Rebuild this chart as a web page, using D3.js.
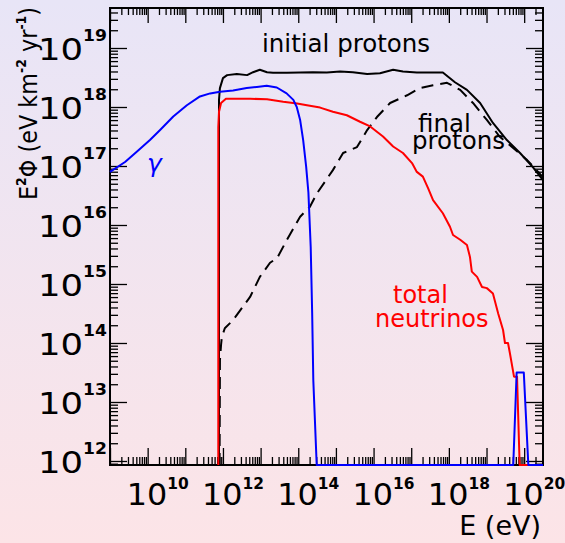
<!DOCTYPE html>
<html><head><meta charset="utf-8">
<script src="https://cdn.jsdelivr.net/npm/d3@7"></script>
<style>html,body{margin:0;padding:0;overflow:hidden;background:#fff}svg{display:block}</style>
</head><body>
<svg id="c" width="565" height="543"></svg>
<script>
// ---------------- data ----------------
const FLOOR = 1e11; // below axis: drawn on the lower frame
const initialE = [7.85e11,7.85e11,8.3e11,1.0e12,1.29e12,2.34e12,4.37e12,6.31e12,9.55e12,1.48e13,2.14e13,5.01e13,1.12e14,2.45e14,5.75e14,1.29e15,2.82e15,6.76e15,1.48e16,3.31e16,6.03e16,1.41e17,3.16e17,6.92e17,1.45e18,3.02e18,6.76e18,1.48e19,3.47e19,7.76e19,1.70e20,3.16e20];
const initialF = [FLOOR,1.32e18,2.09e18,3.09e18,3.47e18,3.63e18,3.47e18,3.89e18,4.27e18,3.89e18,3.80e18,3.80e18,3.85e18,3.89e18,3.85e18,3.98e18,3.89e18,3.63e18,3.72e18,4.27e18,3.98e18,3.85e18,3.85e18,3.85e18,2.63e18,1.95e18,1.17e18,5.37e17,2.75e17,1.66e17,9.55e16,5.75e16];

const finalE = [8.13e11,8.32e11,8.91e11,9.33e11,1.12e12,1.86e12,5.25e12,9.55e12,1.78e13,2.75e13,5.01e13,1.12e14,2.04e14,3.16e14,8.32e14,1.55e15,3.63e15,6.76e15,1.23e16,2.75e16,7.76e16,1.70e17,3.80e17,8.91e17,2.00e18,4.37e18,1.02e19,2.29e19,5.01e19,1.20e20,3.16e20];
const finalF = [FLOOR,5.13e13,9.33e13,1.26e14,1.78e14,2.45e14,6.03e14,1.32e15,2.29e15,2.75e15,5.62e15,1.38e16,2.04e16,3.47e16,8.51e16,1.66e17,2.09e17,4.07e17,6.76e17,1.17e18,1.58e18,2.09e18,2.34e18,2.57e18,1.95e18,1.17e18,6.03e17,3.09e17,2.04e17,1.26e17,6.46e16];

const nuE = [7.52e11,7.52e11,7.85e11,8.91e11,1.20e12,1.86e12,5.25e12,1.48e13,3.98e13,9.33e13,1.70e14,3.80e14,8.32e14,1.95e15,4.37e15,8.13e15,1.78e16,3.31e16,6.03e16,1.05e17,1.41e17,2.04e17,2.82e17,3.80e17,6.92e17,1.07e18,1.29e18,2.00e18,3.02e18,3.63e18,4.07e18,5.62e18,7.59e18,1.02e19,1.48e19,2.04e19,2.75e19,3.09e19,3.72e19,4.17e19,5.01e19,5.37e19,6.46e19,7.59e19,3.16e20];
const nuF = [FLOOR,4.57e17,8.32e17,1.17e18,1.38e18,1.38e18,1.38e18,1.35e18,1.23e18,1.15e18,1.07e18,9.77e17,8.32e17,7.24e17,5.62e17,4.68e17,3.16e17,2.14e17,1.66e17,1.12e17,7.94e16,6.61e16,4.17e16,2.63e16,1.58e16,9.33e15,6.76e15,5.62e15,4.57e15,2.88e15,1.62e15,1.32e15,8.91e14,8.51e14,6.92e14,3.16e14,1.66e14,1.00e14,1.00e14,6.76e13,3.47e13,2.69e13,2.69e13,FLOOR,FLOOR];

const gammaE = [1.0e9,2.51e9,5.13e9,1.15e10,2.14e10,4.79e10,1.10e11,2.45e11,4.57e11,8.32e11,1.86e12,4.27e12,7.94e12,1.45e13,2.69e13,4.90e13,7.41e13,9.12e13,1.12e14,1.35e14,1.62e14,1.86e14,2.14e14,2.34e14,2.51e14,3.09e14,5.13e19,6.31e19,9.77e19,1.29e20,3.16e20];
const gammaF = [7.94e16,1.17e17,1.74e17,2.75e17,4.07e17,6.92e17,1.07e18,1.51e18,1.70e18,1.82e18,1.91e18,2.09e18,2.19e18,2.29e18,2.14e18,1.70e18,1.32e18,1.00e18,6.03e17,2.75e17,9.77e16,3.55e16,4.27e15,3.24e14,2.34e13,FLOOR,FLOOR,3.16e13,3.16e13,FLOOR,FLOOR];

const xTickValues = [1e10,1e12,1e14,1e16,1e18,1e20];
const xTickExp = ["10","12","14","16","18","20"];
const yTickValues = [1e12,1e13,1e14,1e15,1e16,1e17,1e18,1e19];
const yTickExp = ["12","13","14","15","16","17","18","19"];

// ---------------- layout ----------------
const W = 565, H = 543;
const L = 110, R = 543, T = 8, B = 465;
const FONT = "'DejaVu Sans', sans-serif";

const svg = d3.select("#c");
const defs = svg.append("defs");
const grad = defs.append("linearGradient").attr("id","bg").attr("x1",0).attr("y1",0).attr("x2",0).attr("y2",1);
grad.append("stop").attr("offset","0%").attr("stop-color","#e8e5f7");
grad.append("stop").attr("offset","100%").attr("stop-color","#fce4e7");
svg.append("rect").attr("width",W).attr("height",H).attr("fill","url(#bg)");

const x = d3.scaleLog().domain([1e9, 3.1623e20]).range([L, R]);
const y = d3.scaleLog().domain([8.55e11, 4.764e19]).range([B, T]).clamp(true);

function minors(scale){
  const [a,b] = scale.domain(); const out=[];
  for(let n=Math.floor(Math.log10(a)); n<=Math.ceil(Math.log10(b)); n++){
    for(let k=2;k<=9;k++){ const v=k*Math.pow(10,n); if(v>a && v<b) out.push(v); }
  }
  return out;
}
function majors(scale){
  const [a,b] = scale.domain(); const out=[];
  for(let n=Math.ceil(Math.log10(a)); n<=Math.floor(Math.log10(b)); n++) out.push(Math.pow(10,n));
  return out;
}
const xMaj = majors(x), xMin = minors(x), yMaj = majors(y), yMin = minors(y);

const axes = svg.append("g").attr("class","axes");
function drawAxis(gen, tr, vals, size){
  const g = axes.append("g").attr("transform",tr)
    .call(gen.tickValues(vals).tickSize(size).tickFormat(""));
  g.select(".domain").remove();
  g.selectAll(".tick line").attr("stroke","#000").attr("stroke-width",1.3);
}
drawAxis(d3.axisBottom(x), `translate(0,${B})`, xMaj, -17);
drawAxis(d3.axisBottom(x), `translate(0,${B})`, xMin, -8);
drawAxis(d3.axisTop(x), `translate(0,${T})`, xMaj, -15);
drawAxis(d3.axisTop(x), `translate(0,${T})`, xMin, -7);
drawAxis(d3.axisLeft(y), `translate(${L},0)`, yMaj, -17);
drawAxis(d3.axisLeft(y), `translate(${L},0)`, yMin, -8);
drawAxis(d3.axisRight(y), `translate(${R},0)`, yMaj, -17);
drawAxis(d3.axisRight(y), `translate(${R},0)`, yMin, -8);

svg.append("rect").attr("x",L).attr("y",T).attr("width",R-L).attr("height",B-T)
  .attr("fill","none").attr("stroke","#000").attr("stroke-width",2);

// curves
const line = d3.line().x(d=>x(d[0])).y(d=>y(d[1]));
function curve(E,F,color,dash){
  svg.append("path").datum(E.map((e,i)=>[e,F[i]]))
    .attr("d",line).attr("fill","none").attr("stroke",color).attr("stroke-width",2)
    .attr("stroke-linejoin","round").attr("stroke-dasharray",dash||null);
}
curve(initialE, initialF, "#000");
curve(finalE, finalF, "#000", "12,7");
curve(nuE, nuF, "#ff0000");
curve(gammaE, gammaF, "#0000ff");

// tick labels
const labels = svg.append("g").attr("font-family",FONT).attr("fill","#000");
yTickValues.forEach((v,i)=>{
  const t = labels.append("text").attr("x",107).attr("y",y(v)+12)
    .attr("text-anchor","end").attr("font-size",31)
    .attr("textLength",69).attr("lengthAdjust","spacingAndGlyphs");
  t.append("tspan").text("10");
  t.append("tspan").attr("font-size",15).attr("font-weight","bold").attr("dy",-19).text(yTickExp[i]);
});
xTickValues.forEach((v,i)=>{
  const t = labels.append("text").attr("x",x(v)-21).attr("y",505)
    .attr("text-anchor","start").attr("font-size",31)
    .attr("textLength",62).attr("lengthAdjust","spacingAndGlyphs");
  t.append("tspan").text("10");
  t.append("tspan").attr("font-size",15).attr("font-weight","bold").attr("dy",-16).text(xTickExp[i]);
});

// axis titles
labels.append("text").attr("x",541).attr("y",535).attr("text-anchor","end")
  .attr("font-size",27).text("E (eV)");
const yt = labels.append("text").attr("transform","translate(37,200) rotate(-90)")
  .attr("font-size",25).attr("textLength",193).attr("lengthAdjust","spacingAndGlyphs");
yt.append("tspan").text("E");
yt.append("tspan").attr("font-size",14).attr("font-weight","bold").attr("dy",-11).text("2");
yt.append("tspan").attr("dy",11).text("Φ (eV km");
yt.append("tspan").attr("font-size",14).attr("font-weight","bold").attr("dy",-11).text("-2");
yt.append("tspan").attr("dy",11).text(" yr");
yt.append("tspan").attr("font-size",14).attr("font-weight","bold").attr("dy",-11).text("-1");
yt.append("tspan").attr("dy",11).text(")");

// annotations
const ann = svg.append("g").attr("font-family",FONT).attr("font-size",24.5);
ann.append("text").attr("x",262).attr("y",52).attr("fill","#000").text("initial protons");
const fp = ann.append("text").attr("fill","#000");
fp.append("tspan").attr("x",418).attr("y",132).text("final");
fp.append("tspan").attr("x",412).attr("y",149).text("protons");
const tn = ann.append("text").attr("fill","#ff0000").attr("font-size",24);
tn.append("tspan").attr("x",393).attr("y",303).text("total");
tn.append("tspan").attr("x",375).attr("y",327).text("neutrinos");
ann.append("text").attr("x",147).attr("y",172).attr("fill","#0000ff").attr("font-style","italic").attr("font-size",25).text("γ");
</script>
</body></html>
